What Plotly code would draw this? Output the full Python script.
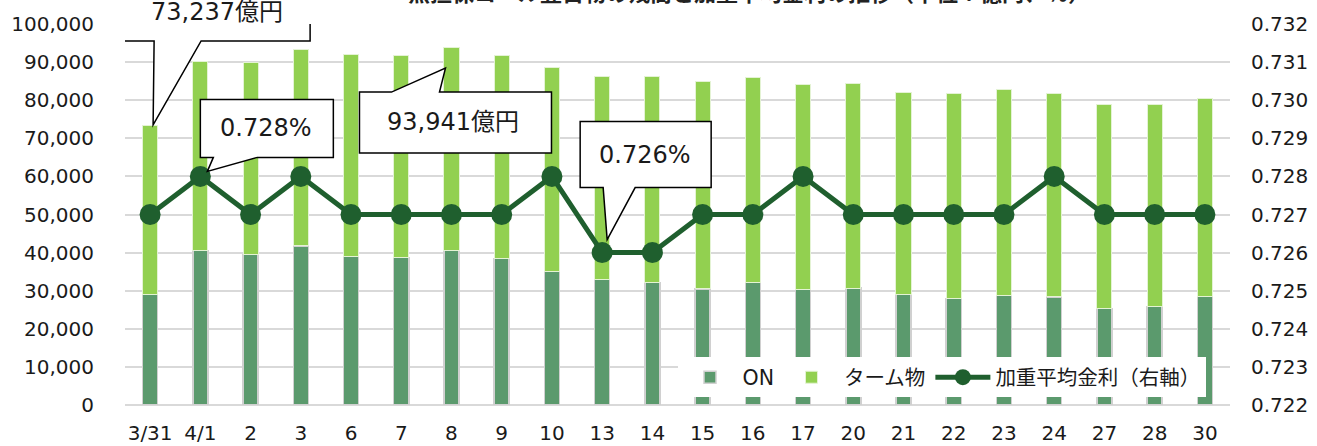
import plotly.graph_objects as go

categories = ["3/31", "4/1", "2", "3", "6", "7", "8", "9", "10", "13", "14",
              "15", "16", "17", "20", "21", "22", "23", "24", "27", "28", "30"]
total = [73237, 90200, 89870, 93300, 91900, 91800, 93941, 91800, 88700, 86200, 86100,
         85000, 85900, 84200, 84450, 82000, 81750, 82800, 81650, 78900, 78800, 80450]
on_vals = [29000, 40600, 39500, 41750, 39100, 38700, 40600, 38400, 35000, 32900, 32100,
           30500, 32200, 30300, 30700, 29100, 27900, 28700, 28400, 25300, 25800, 28500]
term_vals = [t - o for t, o in zip(total, on_vals)]
rate = [0.727, 0.728, 0.727, 0.728, 0.727, 0.727, 0.727, 0.727, 0.728, 0.726, 0.726,
        0.727, 0.727, 0.728, 0.727, 0.727, 0.727, 0.727, 0.728, 0.727, 0.727, 0.727]
left_ticks = list(range(0, 100001, 10000))
right_ticks = [round(0.722 + 0.001 * i, 3) for i in range(11)]

FONT = "DejaVu Sans, Noto Sans CJK JP, sans-serif"
C_ON = "#5B9A6D"
C_TERM = "#92D050"
C_LINE = "#1F5F2E"

fig = go.Figure()
fig.add_trace(go.Bar(x=categories, y=on_vals, name="ON", marker_color=C_ON,
                     marker_line=dict(color="#d0d0d0", width=1.5)))
fig.add_trace(go.Bar(x=categories, y=term_vals, name="ターム物", marker_color=C_TERM,
                     marker_line=dict(color="#e4f3d4", width=1)))
fig.add_trace(go.Scatter(x=categories, y=rate, name="加重平均金利（右軸）", yaxis="y2",
                         mode="lines+markers", line=dict(color=C_LINE, width=5),
                         marker=dict(size=21, color=C_LINE)))

# callouts: (category index, value, axis, text, text shift, outline path in px rel. to anchor)
callouts = [
    (0, total[0], "y", "73,237億円", (67, 114),
     "M -27,85 L 4,85 L 3,1 L 51,85 L 160,85 L 160,150 L -27,150 Z"),
    (1, rate[1], "y2", "0.728%", (66, 48),
     "M 0,19 L 13,19 L 7,5 L 57,19 L 133,19 L 133,77 L 0,77 Z"),
    (6, total[6], "y", "93,941億円", (2, -75),
     "M -92,-45 L -60,-45 L -6,-21 L -12,-45 L 100,-45 L 100,-106 L -92,-106 Z"),
    (9, rate[9], "y2", "0.726%", (43, 98),
     "M -22,65 L 1,65 L 5,13 L 33,65 L 109,65 L 109,131 L -22,131 Z"),
]
for idx, val, yr, txt, (dx, dy), path in callouts:
    fig.add_shape(type="path", xref="x", yref=yr, xsizemode="pixel", ysizemode="pixel",
                  xanchor=idx, yanchor=val, path=path, fillcolor="white",
                  line=dict(color="black", width=1.5), layer="above")
    fig.add_annotation(x=idx, y=val, xref="x", yref=yr, text=txt,
                       showarrow=False, xshift=dx, yshift=dy,
                       font=dict(size=24, color="#1a1a1a", family=FONT))

# title (mostly above the visible area, as in the reference)
fig.add_annotation(text="<b>無担保コール翌日物の残高と加重平均金利の推移（単位：億円、％）</b>",
                   xref="paper", yref="paper", x=0.565, y=1.0, yshift=16,
                   xanchor="center", yanchor="bottom", showarrow=False,
                   font=dict(size=22, color="#222", family=FONT))

fig.update_layout(
    width=1317, height=446,
    margin=dict(l=125, r=87, t=24, b=41),
    paper_bgcolor="white", plot_bgcolor="white",
    barmode="stack", bargap=0.7,
    font=dict(family=FONT, size=20, color="#1a1a1a"),
    showlegend=True,
    legend=dict(orientation="h", x=0.50, y=0.02, xanchor="left", yanchor="bottom",
                bgcolor="white", font=dict(size=20.5), itemwidth=55,
                traceorder="normal"),
    xaxis=dict(type="category", range=[-0.5, len(categories) - 0.5],
               showgrid=False, showline=False, ticks="",
               ticklabelstandoff=14, tickfont=dict(size=20), automargin=False),
    yaxis=dict(range=[0, 100000], tickvals=left_ticks, tickformat=",d",
               showgrid=True, gridcolor="#d9d9d9", gridwidth=1.5,
               zeroline=True, zerolinecolor="#d9d9d9", zerolinewidth=1.5,
               ticklabelstandoff=30, tickfont=dict(size=20), automargin=False),
    yaxis2=dict(range=[0.722, 0.732], tickvals=right_ticks, tickformat=".3f",
                overlaying="y", side="right", showgrid=False, zeroline=False,
                ticklabelstandoff=20, tickfont=dict(size=20), automargin=False),
)

fig.write_html("out.html", config={"displayModeBar": False},
               post_script="document.body.style.margin='0';document.body.style.overflow='hidden';")
